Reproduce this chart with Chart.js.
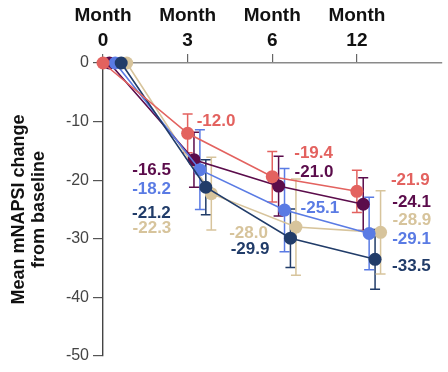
<!DOCTYPE html>
<html>
<head>
<meta charset="utf-8">
<script src="https://cdn.jsdelivr.net/npm/chart.js@4"></script>
<style>
  html, body { margin: 0; padding: 0; background: #fff; }
  #wrap { width: 448px; height: 372px; }
</style>
</head>
<body>
<div id="wrap"><canvas id="myChart" width="448" height="372"></canvas></div>
<script>
const months = ['0', '3', '6', '12'];

const seriesNames = ['red', 'purple', 'blue', 'navy', 'tan'];
const redValues    = [0, -12.0, -19.4, -21.9];
const purpleValues = [0, -16.5, -21.0, -24.1];
const blueValues   = [0, -18.2, -25.1, -29.1];
const navyValues   = [0, -21.2, -29.9, -33.5];
const tanValues    = [0, -22.3, -28.0, -28.9];

const redErr    = [0, 3.3, 4.3, 3.6];
const purpleErr = [0, 4.7, 5.1, 4.5];
const blueErr   = [0, 6.8, 7.1, 6.2];
const navyErr   = [0, 4.7, 5.0, 5.1];
const tanErr    = [0, 6.2, 8.2, 7.1];

const yTicks = [0, -10, -20, -30, -40, -50];

// styling
const colors = ['#e3625f', '#5b0c4b', '#5a7be4', '#213c69', '#d7c49c'];
const dodge = [0, 0.075, 0.145, 0.215, 0.28];
// label offsets from each point: [dx, dy, align]
const labelPos = [
  [null, [9, -12, 'left'], [22, -23, 'left'], [34, -11, 'left']],
  [null, [-23, 11, 'right'], [16, -14, 'left'], [29, -2, 'left']],
  [null, [-29, 20, 'right'], [16, -2, 'left'], [23, 6, 'left']],
  [null, [-35, 26, 'right'], [-21, 11, 'right'], [17, 7, 'left']],
  [null, [-40, 35, 'right'], [-28, 6, 'right'], [12, -12, 'left']]
];

const allValues = [redValues, purpleValues, blueValues, navyValues, tanValues];
const allErr = [redErr, purpleErr, blueErr, navyErr, tanErr];
const FONT = "'Liberation Sans', Arial, sans-serif";

const datasets = allValues.map((vals, s) => ({
  label: seriesNames[s],
  data: vals.map((v, i) => ({ x: i + dodge[s], y: v })),
  borderColor: colors[s],
  backgroundColor: colors[s],
  pointBackgroundColor: colors[s],
  pointBorderWidth: 0,
  pointRadius: 6.5,
  borderWidth: 1.6,
  clip: false,
  order: [1, 4, 3, 2, 5][s],
  errs: allErr[s]
}));

const errorBars = {
  id: 'errorBars',
  beforeDatasetsDraw(chart) {
    const ctx = chart.ctx;
    const y = chart.scales.y;
    chart.data.datasets.forEach((ds, s) => {
      const meta = chart.getDatasetMeta(s);
      ctx.save();
      ctx.strokeStyle = ds.borderColor;
      ctx.lineWidth = 1.5;
      meta.data.forEach((pt, i) => {
        const e = ds.errs[i];
        if (!e) return;
        const v = ds.data[i].y;
        const top = y.getPixelForValue(v + e);
        const bot = y.getPixelForValue(v - e);
        ctx.beginPath();
        ctx.moveTo(pt.x, top); ctx.lineTo(pt.x, bot);
        ctx.moveTo(pt.x - 5, top); ctx.lineTo(pt.x + 5, top);
        ctx.moveTo(pt.x - 5, bot); ctx.lineTo(pt.x + 5, bot);
        ctx.stroke();
      });
      ctx.restore();
    });
  }
};

const valueLabels = {
  id: 'valueLabels',
  afterDatasetsDraw(chart) {
    const ctx = chart.ctx;
    ctx.save();
    ctx.font = 'bold 17px ' + FONT;
    ctx.textBaseline = 'middle';
    chart.data.datasets.forEach((ds, s) => {
      const meta = chart.getDatasetMeta(s);
      meta.data.forEach((pt, i) => {
        const p = labelPos[s][i];
        if (!p) return;
        ctx.fillStyle = ds.borderColor;
        ctx.textAlign = p[2];
        ctx.fillText(ds.data[i].y.toFixed(1), pt.x + p[0], pt.y + p[1]);
      });
    });
    ctx.restore();
  }
};

new Chart(document.getElementById('myChart'), {
  type: 'line',
  data: { datasets },
  plugins: [errorBars, valueLabels],
  options: {
    responsive: false,
    animation: false,
    layout: { padding: { top: 0, right: 0, bottom: 16, left: 0 } },
    plugins: { legend: { display: false }, tooltip: { enabled: false } },
    scales: {
      x: {
        type: 'linear',
        position: 'top',
        min: 0,
        max: 4,
        afterBuildTicks(scale) {
          scale.ticks = months.map((m, i) => ({ value: i }));
        },
        afterFit(scale) { scale.height = 63; },
        ticks: {
          color: '#111',
          font: { family: FONT, size: 19, weight: 'bold', lineHeight: 1.35 },
          padding: 0,
          maxRotation: 0,
          callback: (v) => ['Month', months[v]]
        },
        grid: { drawOnChartArea: false, tickLength: 9, color: '#666', lineWidth: 1.2 },
        border: { color: '#8a8a8a', width: 1.6 }
      },
      y: {
        min: -50,
        max: 0,
        afterBuildTicks(scale) {
          scale.ticks = yTicks.map(v => ({ value: v }));
        },
        afterFit(scale) { scale.width = 103; },
        ticks: {
          color: '#444',
          font: { family: FONT, size: 16 },
          padding: 4
        },
        grid: { drawOnChartArea: false, tickLength: 10, color: '#555', lineWidth: 1.2 },
        border: { color: '#444', width: 1.4 },
        title: {
          display: true,
          text: ['Mean mNAPSI change', 'from baseline'],
          color: '#111',
          font: { family: FONT, size: 18, weight: 'bold', lineHeight: 1.1 },
          padding: { top: 9, bottom: 0 }
        }
      }
    }
  }
});
</script>
</body>
</html>
